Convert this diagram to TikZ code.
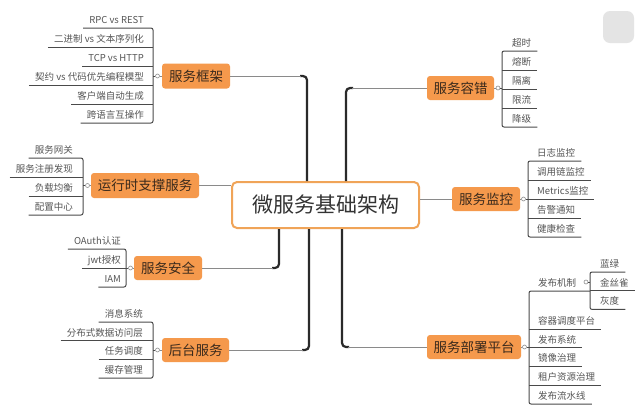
\documentclass[tikz,border=0pt]{standalone}
\usepackage{fontspec}
\setmainfont{Noto Sans CJK SC}
\usetikzlibrary{calc}
\definecolor{orangefill}{HTML}{F5994C}
\definecolor{centerborder}{HTML}{F0A458}
\definecolor{topictext}{HTML}{3A2A1C}
\definecolor{centertext}{HTML}{333333}
\definecolor{leaftext}{HTML}{555555}
\definecolor{ulinecol}{HTML}{4A4A4A}
\definecolor{trunkcol}{HTML}{2A2A2A}
\definecolor{twigcol}{HTML}{8A8A8A}
\definecolor{knobcol}{HTML}{8A8A8A}
\definecolor{blobcol}{HTML}{E4E4E4}
\tikzset{
  centerbox/.style={draw=centerborder, line width=2pt, fill=white, rounded corners=5pt,
    minimum width=187pt, minimum height=46pt, inner sep=0pt,
    font=\fontsize{21}{24}\selectfont, text=centertext},
  topic/.style={fill=orangefill, rounded corners=3pt, text=topictext, inner sep=0pt,
    minimum height=24pt, font=\fontsize{13.5}{15}\selectfont},
  leafbase/.style={inner xsep=6pt, inner ysep=2.5pt, text=leaftext,
    text height=7pt, text depth=2pt, font=\fontsize{9.5}{11}\selectfont},
  leafL/.style={leafbase, anchor=south east},
  leafR/.style={leafbase, anchor=south west},
  uline/.style={draw=ulinecol, line width=1pt, rounded corners=2pt},
  knob/.style={circle, draw=knobcol, fill=white, line width=0.6pt, minimum size=4pt, inner sep=0pt},
  trunk/.style={draw=trunkcol, line width=2.2pt, rounded corners=4pt},
  twig/.style={draw=twigcol, line width=0.9pt},
}
\begin{document}
\begin{tikzpicture}[x=1pt,y=-1pt]
\useasboundingbox (0,0) rectangle (640,416);
\fill[white] (0,0) rectangle (640,416);
\fill[blobcol, rounded corners=7pt] (603,11) rectangle (634,43);

% central topic
\node[centerbox] (c) at (325.5,205) {微服务基础架构};

% main topics
\node[topic, minimum width=68pt, minimum height=25pt] (t1) at (196,76) {服务框架};
\node[topic, minimum width=67pt] (t5) at (460.5,88) {服务容错};
\node[topic, minimum width=108pt, minimum height=25pt] (t2) at (145,185.5) {运行时支撑服务};
\node[topic, minimum width=68pt] (t6) at (486,199) {服务监控};
\node[topic, minimum width=68pt] (t3) at (168,268) {服务安全};
\node[topic, minimum width=67pt] (t4) at (195.5,350) {后台服务};
\node[topic, minimum width=94pt] (t7) at (474,347) {服务部署平台};

% trunk connectors
\coordinate (j1) at (307,0);
\coordinate (j5) at (346,0);
\coordinate (j3) at (279,0);
\coordinate (j4) at (309,0);
\coordinate (j7) at (342,0);
\draw[trunk] (c.north -| j1) |- ($(t1.east -| j1)+(-7,0)$);
\draw[twig] ($(t1.east -| j1)+(-6,0)$) -- (t1.east);
\draw[trunk] (c.north -| j5) |- ($(t5.west -| j5)+(7,0)$);
\draw[twig] ($(t5.west -| j5)+(6,0)$) -- (t5.west);
\draw[trunk] (c.south -| j3) |- ($(t3.east -| j3)+(-7,0)$);
\draw[twig] ($(t3.east -| j3)+(-6,0)$) -- (t3.east);
\draw[trunk] (c.south -| j4) |- ($(t4.east -| j4)+(-7,0)$);
\draw[twig] ($(t4.east -| j4)+(-6,0)$) -- (t4.east);
\draw[trunk] (c.south -| j7) |- ($(t7.west -| j7)+(7,0)$);
\draw[twig] ($(t7.west -| j7)+(6,0)$) -- (t7.west);
\draw[twig] (t2.east) -- (t2.east -| c.west);
\draw[twig] (t6.west) -- (t6.west -| c.east);

% ---- 服务框架 leaves
\foreach \t [count=\i] in {RPC vs REST,二进制 vs 文本序列化,TCP vs HTTP,契约 vs 代码优先编程模型,客户端自动生成,跨语言互操作}
  \node[leafL] (a\i) at (150,{28+19*(\i-1)}) {\t};
\coordinate (b1) at (153,76);
\draw[uline] (a1.south west) -- (a1.south west -| b1) -- (a6.south west -| b1) -- (a6.south west);
\foreach \i in {2,...,5} \draw[uline] (a\i.south west) -- (a\i.south west -| b1);
\node[knob] (k1) at (157.5,76) {};
\draw[uline] (b1) -- (k1);
\draw[twig] (k1) -- (t1);

% ---- 运行时支撑服务 leaves
\foreach \t [count=\i] in {服务网关,服务注册发现,负载均衡,配置中心}
  \node[leafL] (r\i) at (79,{158+19*(\i-1)}) {\t};
\coordinate (b2) at (83,185.5);
\draw[uline] (r1.south west) -- (r1.south west -| b2) -- (r4.south west -| b2) -- (r4.south west);
\foreach \i in {2,3} \draw[uline] (r\i.south west) -- (r\i.south west -| b2);
\node[knob] (k2) at (87.5,185.5) {};
\draw[uline] (b2) -- (k2);
\draw[twig] (k2) -- (t2);

% ---- 服务安全 leaves
\foreach \t [count=\i] in {OAuth认证,jwt授权,IAM}
  \node[leafL] (s\i) at (127,{249+19*(\i-1)}) {\t};
\coordinate (b3) at (126,268);
\draw[uline] (s1.south west) -- (s1.south west -| b3) -- (s3.south west -| b3) -- (s3.south west);
\draw[uline] (s2.south west) -- (s2.south west -| b3);
\node[knob] (k3) at (130.5,268) {};
\draw[uline] (b3) -- (k3);
\draw[twig] (k3) -- (t3);

% ---- 后台服务 leaves
\foreach \t [count=\i] in {消息系统,分布式数据访问层,任务调度,缓存管理}
  \node[leafL] (h\i) at (149,{322+18.7*(\i-1)}) {\t};
\coordinate (b4) at (153,350);
\draw[uline] (h1.south west) -- (h1.south west -| b4) -- (h4.south west -| b4) -- (h4.south west);
\foreach \i in {2,3} \draw[uline] (h\i.south west) -- (h\i.south west -| b4);
\node[knob] (k4) at (157.5,350) {};
\draw[uline] (b4) -- (k4);
\draw[twig] (k4) -- (t4);

% ---- 服务容错 leaves
\foreach \t [count=\i] in {超时,熔断,隔离,限流,降级}
  \node[leafR] (e\i) at (506,{51+19*(\i-1)}) {\t};
\coordinate (b5) at (502,88);
\draw[uline] (e1.south east) -- (e1.south east -| b5) -- (e5.south east -| b5) -- (e5.south east);
\foreach \i in {2,3,4} \draw[uline] (e\i.south west -| b5) -- (e\i.south east);
\node[knob] (k5) at (498,88) {};
\draw[uline] (b5) -- (k5);
\draw[twig] (k5) -- (t5);

% ---- 服务监控 leaves
\foreach \t [count=\i] in {日志监控,调用链监控,Metrics监控,告警通知,健康检查}
  \node[leafR] (m\i) at (531,{161+19*(\i-1)}) {\t};
\coordinate (b6) at (528,199);
\draw[uline] (m1.south east) -- (m1.south east -| b6) -- (m5.south east -| b6) -- (m5.south east);
\foreach \i in {2,3,4} \draw[uline] (m\i.south west -| b6) -- (m\i.south east);
\node[knob] (k6) at (523.5,199) {};
\draw[uline] (b6) -- (k6);
\draw[twig] (k6) -- (t6);

% ---- 服务部署平台 leaves
\node[leafR] (p1) at (532,291) {发布机制};
\foreach \t [count=\i] in {容器调度平台,发布系统,镜像治理,租户资源治理,发布流水线}
  \node[leafR] (q\i) at (532,{329+18.75*(\i-1)}) {\t};
\coordinate (b7) at (529,347);
\coordinate (b8) at (590,282);
\draw[uline] (p1.south west -| b8) -- (p1.south west -| b7) -- (q5.south west -| b7) -- (q5.south east);
\foreach \i in {1,...,4} \draw[uline] (q\i.south west -| b7) -- (q\i.south east);
\node[knob] (k7) at (524.5,347) {};
\draw[uline] (b7) -- (k7);
\draw[twig] (k7) -- (t7);

% ---- 发布机制 sub-leaves
\foreach \t [count=\i] in {蓝绿,金丝雀,灰度}
  \node[leafR] (u1\i) at (594,{272+18.7*(\i-1)}) {\t};
\draw[uline] (u11.south east) -- (u11.south east -| b8) -- (u13.south east -| b8) -- (u13.south east);
\draw[uline] (u12.south west -| b8) -- (u12.south east);
\node[knob] (k8) at (586,282) {};
\draw[uline] (k8) -- (b8);
\end{tikzpicture}
\end{document}
